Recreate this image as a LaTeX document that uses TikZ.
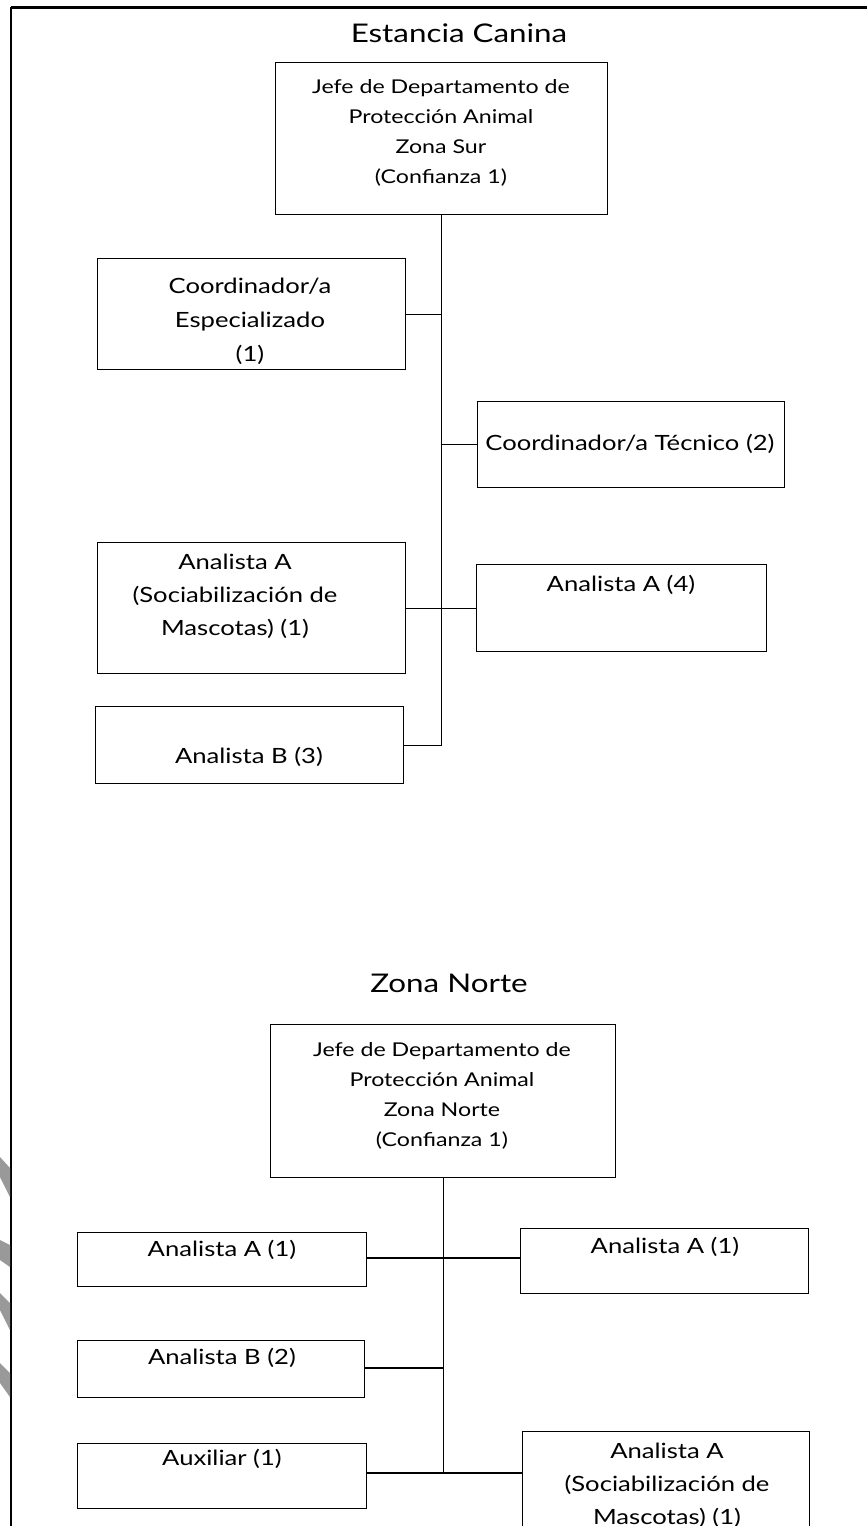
\documentclass[tikz,border=0pt]{standalone}
\usepackage{fontspec}
\setmainfont{Lato}[FakeStretch=1.22]
\begin{document}
\begin{tikzpicture}[x=1pt,y=-1pt,
  box/.style={draw=black, line width=1.4pt, rectangle, inner sep=0pt, anchor=north west},
  conn/.style={draw=black, line width=1.4pt},
  lbl/.style={inner sep=0pt, align=center, text=black, font=\fontsize{21}{33}\selectfont},
  jlbl/.style={inner sep=0pt, align=center, text=black, font=\fontsize{19}{30}\selectfont},
  ttl/.style={inner sep=0pt, text=black, font=\fontsize{25.7}{30}\selectfont}]
\useasboundingbox (0,0) rectangle (867,1526);
\clip (0,0) rectangle (867,1526);
% frame
\draw[line width=3pt] (11,7) -- (867,7);
\draw[line width=2.5pt] (11,7) -- (11,1526);
% grey marks at the left edge
\fill[black!40] (0,1157) -- (10,1168) -- (10,1197) -- (0,1177) -- cycle;
\fill[black!40] (0,1240) -- (10,1245) -- (10,1267) -- (0,1260) -- cycle;
\fill[black!40] (0,1293) -- (10,1303) -- (10,1330) -- (0,1310) -- cycle;
\fill[black!40] (0,1363) -- (10,1373) -- (10,1397) -- (0,1383) -- cycle;

% ===== Estancia Canina =====
\node[ttl] (t1) at (459,33) {Estancia Canina};
\node[box, minimum width=332pt, minimum height=152pt] (jefeS) at (275,62) {};
\node[jlbl] (jefeSt) at (441,133) {Jefe de Departamento de\\Protección Animal\\Zona Sur\\(Confianza 1)};
\node[box, minimum width=308pt, minimum height=111pt] (coordE) at (97,258) {};
\node[lbl, font=\fontsize{21}{34}\selectfont] (coordEt) at (250,321) {Coordinador/a\\Especializado\\(1)};
\node[box, minimum width=307pt, minimum height=86pt] (coordT) at (477,401) {};
\node[lbl] (coordTt) at (630,444) {Coordinador/a Técnico (2)};
\node[box, minimum width=308pt, minimum height=131pt] (anaSoc) at (97,542) {};
\node[lbl] (anaSoct) at (235,596) {Analista A\\(Sociabilización de\\Mascotas) (1)};
\node[box, minimum width=290pt, minimum height=87pt] (anaA4) at (476,564) {};
\node[lbl] (anaA4t) at (621,585) {Analista A (4)};
\node[box, minimum width=308pt, minimum height=77pt] (anaB3) at (95,706) {};
\node[lbl] (anaB3t) at (249,757) {Analista B (3)};

\draw[conn] (jefeS.south) -- (jefeS.south |- anaB3.east) -- (anaB3.east);
\draw[conn] (coordE.east) -- (jefeS.south |- coordE.east);
\draw[conn] (jefeS.south |- coordT.west) -- (coordT.west);
\draw[conn] (anaSoc.east) -- (anaSoc.east -| anaA4.west);

% ===== Zona Norte =====
\node[ttl] (t2) at (449,983) {Zona Norte};
\node[box, minimum width=345pt, minimum height=153pt] (jefeN) at (270,1024) {};
\node[jlbl] (jefeNt) at (442,1096) {Jefe de Departamento de\\Protección Animal\\Zona Norte\\(Confianza 1)};
\node[box, minimum width=289pt, minimum height=54pt] (anaA1L) at (77,1232) {};
\node[lbl] (anaA1Lt) at (222,1250) {Analista A (1)};
\node[box, minimum width=288pt, minimum height=65pt] (anaA1R) at (520,1228) {};
\node[lbl] (anaA1Rt) at (665,1247) {Analista A (1)};
\node[box, minimum width=287pt, minimum height=57pt] (anaB2) at (77,1340) {};
\node[lbl] (anaB2t) at (222,1358) {Analista B (2)};
\node[box, minimum width=289pt, minimum height=65pt] (aux) at (77,1443) {};
\node[lbl] (auxt) at (222,1459) {Auxiliar (1)};
\node[box, minimum width=287pt, minimum height=130pt] (anaSocN) at (522,1431) {};
\node[lbl] (anaSocNt) at (667,1485) {Analista A\\(Sociabilización de\\Mascotas) (1)};

\coordinate (nA) at (443,1258);
\coordinate (nB) at (443,1368);
\coordinate (nC) at (443,1473);
\draw[conn] (jefeN.south) -- (jefeN.south |- nC);
\draw[conn] (anaA1L.east |- nA) -- (anaA1R.west |- nA);
\draw[conn] (anaB2.east |- nB) -- (nB);
\draw[conn] (aux.east |- nC) -- (anaSocN.west |- nC);
\end{tikzpicture}
\end{document}
